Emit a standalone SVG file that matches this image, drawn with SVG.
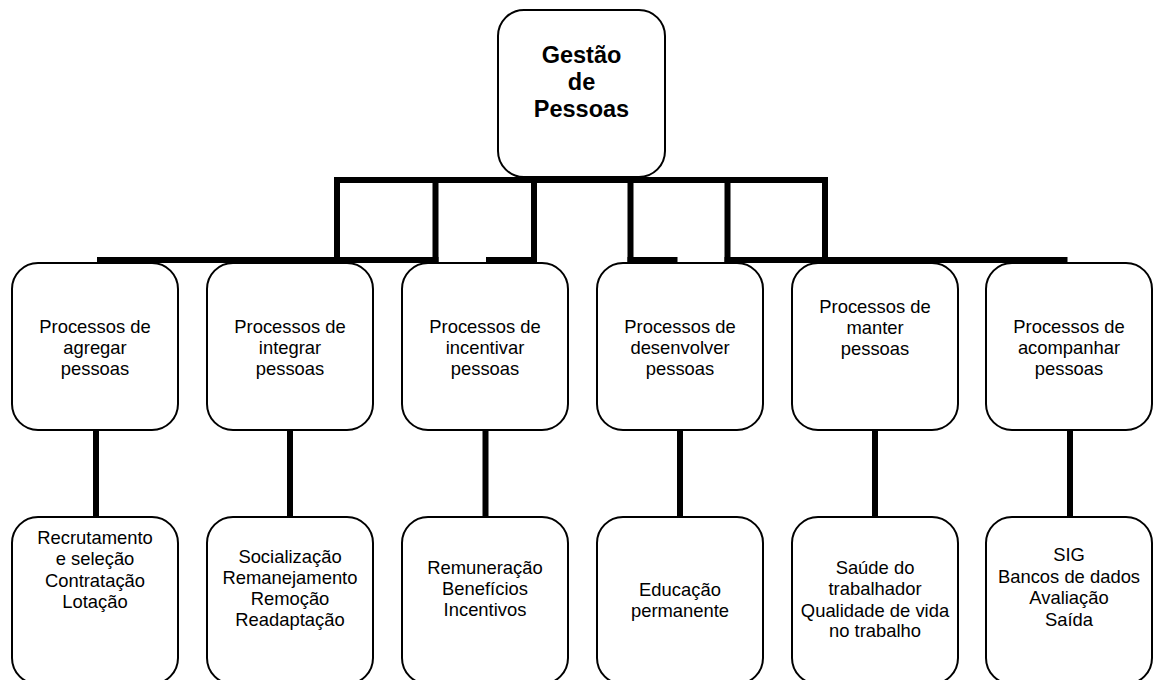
<svg xmlns="http://www.w3.org/2000/svg" width="1155" height="680" viewBox="0 0 1155 680">
<style>
.box{fill:#fff;stroke:#000;stroke-width:2}
.t{font-family:"Liberation Sans",Arial,sans-serif;font-size:18.4px;fill:#000;text-anchor:middle}
.tb{font-family:"Liberation Sans",Arial,sans-serif;font-size:23.5px;font-weight:bold;fill:#000;text-anchor:middle}
.c{fill:#000}
</style>
<rect width="1155" height="680" fill="#fff"/>
<g id="root">
<rect class="box" x="498" y="10" width="167" height="167" rx="26"/>
<text class="tb" x="581.5" y="63">Gestão</text>
<text class="tb" x="581.5" y="90">de</text>
<text class="tb" x="581.5" y="117">Pessoas</text>
</g>
<g id="p1">
<rect class="box" x="12" y="263" width="166" height="167" rx="26"/>
<text class="t" x="95" y="333">Processos de</text>
<text class="t" x="95" y="354">agregar</text>
<text class="t" x="95" y="375">pessoas</text>
</g>
<g id="p2">
<rect class="box" x="207" y="263" width="166" height="167" rx="26"/>
<text class="t" x="290" y="333">Processos de</text>
<text class="t" x="290" y="354">integrar</text>
<text class="t" x="290" y="375">pessoas</text>
</g>
<g id="p3">
<rect class="box" x="402" y="263" width="166" height="167" rx="26"/>
<text class="t" x="485" y="333">Processos de</text>
<text class="t" x="485" y="354">incentivar</text>
<text class="t" x="485" y="375">pessoas</text>
</g>
<g id="p4">
<rect class="box" x="597" y="263" width="166" height="167" rx="26"/>
<text class="t" x="680" y="333">Processos de</text>
<text class="t" x="680" y="354">desenvolver</text>
<text class="t" x="680" y="375">pessoas</text>
</g>
<g id="p5">
<rect class="box" x="792" y="263" width="166" height="167" rx="26"/>
<text class="t" x="875" y="313">Processos de</text>
<text class="t" x="875" y="334">manter</text>
<text class="t" x="875" y="355">pessoas</text>
</g>
<g id="p6">
<rect class="box" x="986" y="263" width="166" height="167" rx="26"/>
<text class="t" x="1069" y="333">Processos de</text>
<text class="t" x="1069" y="354">acompanhar</text>
<text class="t" x="1069" y="375">pessoas</text>
</g>
<g id="d1">
<rect class="box" x="12" y="517" width="166" height="167" rx="26"/>
<text class="t" x="95" y="544">Recrutamento</text>
<text class="t" x="95" y="565">e seleção</text>
<text class="t" x="95" y="586.5">Contratação</text>
<text class="t" x="95" y="607.5">Lotação</text>
</g>
<g id="d2">
<rect class="box" x="207" y="517" width="166" height="167" rx="26"/>
<text class="t" x="290" y="562.5">Socialização</text>
<text class="t" x="290" y="584">Remanejamento</text>
<text class="t" x="290" y="605">Remoção</text>
<text class="t" x="290" y="626">Readaptação</text>
</g>
<g id="d3">
<rect class="box" x="402" y="517" width="166" height="167" rx="26"/>
<text class="t" x="485" y="574">Remuneração</text>
<text class="t" x="485" y="595">Benefícios</text>
<text class="t" x="485" y="616">Incentivos</text>
</g>
<g id="d4">
<rect class="box" x="597" y="517" width="166" height="167" rx="26"/>
<text class="t" x="680" y="595.5">Educação</text>
<text class="t" x="680" y="616.5">permanente</text>
</g>
<g id="d5">
<rect class="box" x="792" y="517" width="166" height="167" rx="26"/>
<text class="t" x="875" y="574">Saúde do</text>
<text class="t" x="875" y="595">trabalhador</text>
<text class="t" x="875" y="616.5">Qualidade de vida</text>
<text class="t" x="875" y="637">no trabalho</text>
</g>
<g id="d6">
<rect class="box" x="986" y="517" width="166" height="167" rx="26"/>
<text class="t" x="1069" y="561">SIG</text>
<text class="t" x="1069" y="583">Bancos de dados</text>
<text class="t" x="1069" y="604">Avaliação</text>
<text class="t" x="1069" y="625.5">Saída</text>
</g>
<g id="connectors">
<rect class="c" x="334" y="177" width="494" height="6"/>
<rect class="c" x="334" y="177" width="6" height="86"/>
<rect class="c" x="432.5" y="177" width="6" height="86"/>
<rect class="c" x="531" y="177" width="6" height="86"/>
<rect class="c" x="627.5" y="177" width="6" height="86"/>
<rect class="c" x="724.5" y="177" width="6" height="86"/>
<rect class="c" x="822" y="177" width="6" height="86"/>
<rect class="c" x="97" y="257" width="341.5" height="6"/>
<rect class="c" x="486" y="257" width="51" height="6"/>
<rect class="c" x="627.5" y="257" width="50" height="6"/>
<rect class="c" x="724.5" y="257" width="343" height="6"/>
<rect class="c" x="93" y="431" width="6" height="85"/>
<rect class="c" x="287" y="431" width="6" height="85"/>
<rect class="c" x="482.5" y="431" width="6" height="85"/>
<rect class="c" x="677" y="431" width="6" height="85"/>
<rect class="c" x="872" y="431" width="6" height="85"/>
<rect class="c" x="1067" y="431" width="6" height="85"/>
</g>
</svg>
